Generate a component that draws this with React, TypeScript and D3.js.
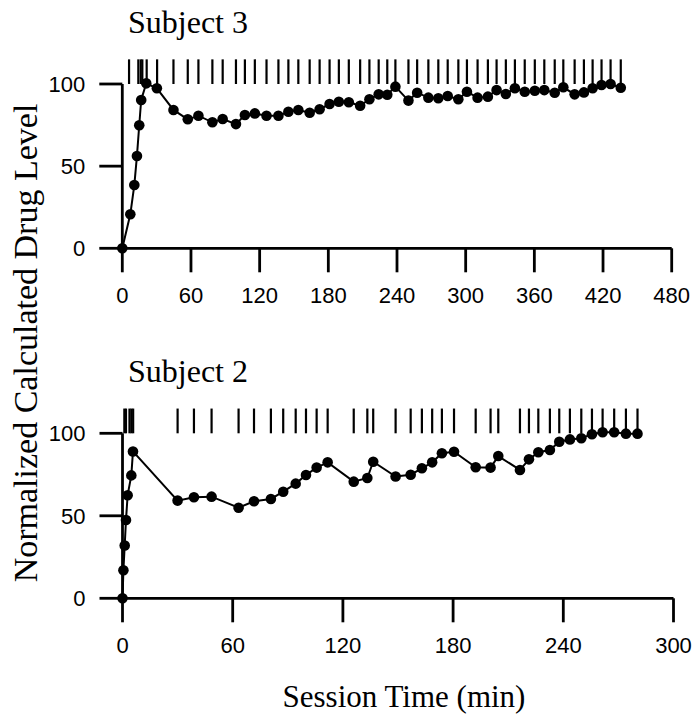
import React from "react";
import * as d3 from "d3";

// Subject 3: time (min) and normalized drug level
const s3Time = [0, 7, 10.5, 12.8, 14.8, 16.5, 20.9, 30.2, 44.7, 57.2, 66.5, 78.7, 87.7, 99.3, 107.1, 115.8, 126, 136.4, 145.1, 153.8, 163.7, 172.4, 181.1, 189.2, 197.9, 207.8, 215.9, 224, 231.5, 238.6, 250, 257.6, 267.4, 276.1, 284.3, 293.6, 301.1, 310.4, 319.4, 327, 335.1, 343, 351.6, 360.4, 368.7, 377.8, 385.3, 395.2, 403.3, 410.9, 418.7, 426.6, 435.5];
const s3Level = [0, 20.7, 38.5, 56.2, 74.9, 90.3, 100.4, 97.4, 84.2, 78.5, 80.7, 76.7, 78.7, 75.6, 81.1, 82.1, 80.7, 80.7, 83.1, 84.2, 82.5, 84.6, 87.8, 89.2, 88.9, 86.8, 90.7, 93.7, 93.5, 98.4, 89.9, 94.7, 91.7, 91.3, 92.7, 90.7, 95.3, 91.7, 92.3, 96.3, 93.9, 97.4, 95.3, 95.9, 96.3, 94.7, 98, 93.7, 94.9, 97.4, 99.4, 100, 97.7];
const s3Events = [5.9, 14, 16.1, 17.5, 21.3, 30.4, 44.7, 57.2, 66.5, 78.7, 87.7, 99.3, 107.1, 115.8, 126, 136.4, 145.1, 153.8, 163.7, 172.4, 181.1, 189.2, 197.9, 207.8, 215.9, 224, 231.5, 238.6, 250, 257.6, 267.4, 276.1, 284.3, 293.6, 301.1, 310.4, 319.4, 327, 335.1, 343, 351.6, 360.4, 368.7, 377.8, 385.3, 395.2, 403.3, 410.9, 418.7, 426.6, 435.5];

// Subject 2
const s2Time = [0, 0.5, 1.2, 1.9, 2.8, 4.8, 5.7, 30, 38.9, 48.5, 63.2, 71.6, 80.8, 87.5, 94.3, 99.9, 105.7, 111.7, 125.9, 133.3, 136.5, 148.7, 156.9, 163, 168.6, 173.9, 180.5, 192.3, 200.4, 204.6, 216.4, 221.3, 226.4, 232.7, 237.8, 243.6, 249.8, 255.6, 261.4, 267.7, 274.1, 280.4];
const s2Level = [0, 17, 32, 47.5, 62.5, 74.5, 89, 59.2, 61.2, 61.6, 54.9, 58.8, 60.2, 64.6, 69.5, 74.7, 79.2, 82.4, 70.7, 72.9, 82.8, 73.8, 74.9, 78.8, 82.4, 87.9, 88.8, 79.4, 79.2, 86.2, 77.8, 84.2, 88.5, 89.9, 94.9, 96.3, 97, 99.4, 100.6, 100.6, 99.8, 99.8];
const s2Events = [1.0, 1.9, 3.8, 4.8, 5.8, 30, 38.9, 48.5, 63.2, 71.6, 80.8, 87.5, 94.3, 99.9, 105.7, 111.7, 125.9, 133.3, 136.5, 148.7, 156.9, 163, 168.6, 173.9, 180.5, 192.3, 200.4, 204.6, 216.4, 221.3, 226.4, 232.7, 237.8, 243.6, 249.8, 255.6, 261.4, 267.7, 274.1, 280.4];

const s3XTicks = [0, 60, 120, 180, 240, 300, 360, 420, 480];
const s2XTicks = [0, 60, 120, 180, 240, 300];
const yTicks = [0, 50, 100];

const SERIF = "'Liberation Serif', 'Times New Roman', serif";
const SANS = "'Liberation Sans', Arial, sans-serif";

type PanelProps = {
  title: string;
  times: number[];
  levels: number[];
  events: number[];
  xMax: number;
  xTicks: number[];
  xRange: [number, number];
  yRange: [number, number];
};

function Panel({ title, times, levels, events, xMax, xTicks, xRange, yRange }: PanelProps) {
  const x = d3.scaleLinear().domain([0, xMax]).range(xRange);
  const y = d3.scaleLinear().domain([0, 100]).range(yRange);
  const pts = times.map((t, i) => [t, levels[i]] as [number, number]);
  const line = d3.line<[number, number]>().x((d) => x(d[0])).y((d) => y(d[1]));
  const x0 = x(0);
  const y0 = y(0);
  const tickLen = 23;
  return (
    <g>
      <text x={128} y={y(100) - 51} fontFamily={SERIF} fontSize={32} fill="#000">
        {title}
      </text>
      {/* event marks */}
      {events.map((e, i) => (
        <line key={"e" + i} x1={x(e)} x2={x(e)} y1={y(100)} y2={y(115)} stroke="#000" strokeWidth={2.2} />
      ))}
      {/* axes */}
      <line x1={x0} x2={x0} y1={y(100)} y2={y0} stroke="#000" strokeWidth={2.8} />
      <line x1={x0} x2={x(xMax)} y1={y0} y2={y0} stroke="#000" strokeWidth={2.8} />
      {yTicks.map((t) => (
        <g key={"y" + t}>
          <line x1={x0 - tickLen} x2={x0} y1={y(t)} y2={y(t)} stroke="#000" strokeWidth={2.8} />
          <text x={x0 - 37} y={y(t)} dy="0.36em" textAnchor="end" fontFamily={SANS} fontSize={22} fill="#000">
            {t}
          </text>
        </g>
      ))}
      {xTicks.map((t) => (
        <g key={"x" + t}>
          <line x1={x(t)} x2={x(t)} y1={y0} y2={y0 + tickLen + 1} stroke="#000" strokeWidth={2.8} />
          <text x={x(t)} y={y0 + 55} textAnchor="middle" fontFamily={SANS} fontSize={22} fill="#000">
            {t}
          </text>
        </g>
      ))}
      <path d={line(pts) || ""} fill="none" stroke="#000" strokeWidth={2} />
      {pts.map((p, i) => (
        <circle key={"p" + i} cx={x(p[0])} cy={y(p[1])} r={5.3} fill="#000" />
      ))}
    </g>
  );
}

export default function App() {
  return (
    <svg width={698} height={719} style={{ position: "absolute", left: 0, top: 0, background: "#fff" }}>
      <rect width={698} height={719} fill="#fff" />
      <Panel
        title="Subject 3"
        times={s3Time}
        levels={s3Level}
        events={s3Events}
        xMax={480}
        xTicks={s3XTicks}
        xRange={[122.3, 671.7]}
        yRange={[248.3, 84]}
      />
      <Panel
        title="Subject 2"
        times={s2Time}
        levels={s2Level}
        events={s2Events}
        xMax={300}
        xTicks={s2XTicks}
        xRange={[122.5, 673.5]}
        yRange={[598.3, 433.3]}
      />
      <text
        transform="translate(37,343) rotate(-90)"
        textAnchor="middle"
        fontFamily={SERIF}
        fontSize={34}
        fill="#000"
      >
        Normalized Calculated Drug Level
      </text>
      <text x={404} y={707} textAnchor="middle" fontFamily={SERIF} fontSize={31} fill="#000">
        Session Time (min)
      </text>
    </svg>
  );
}
